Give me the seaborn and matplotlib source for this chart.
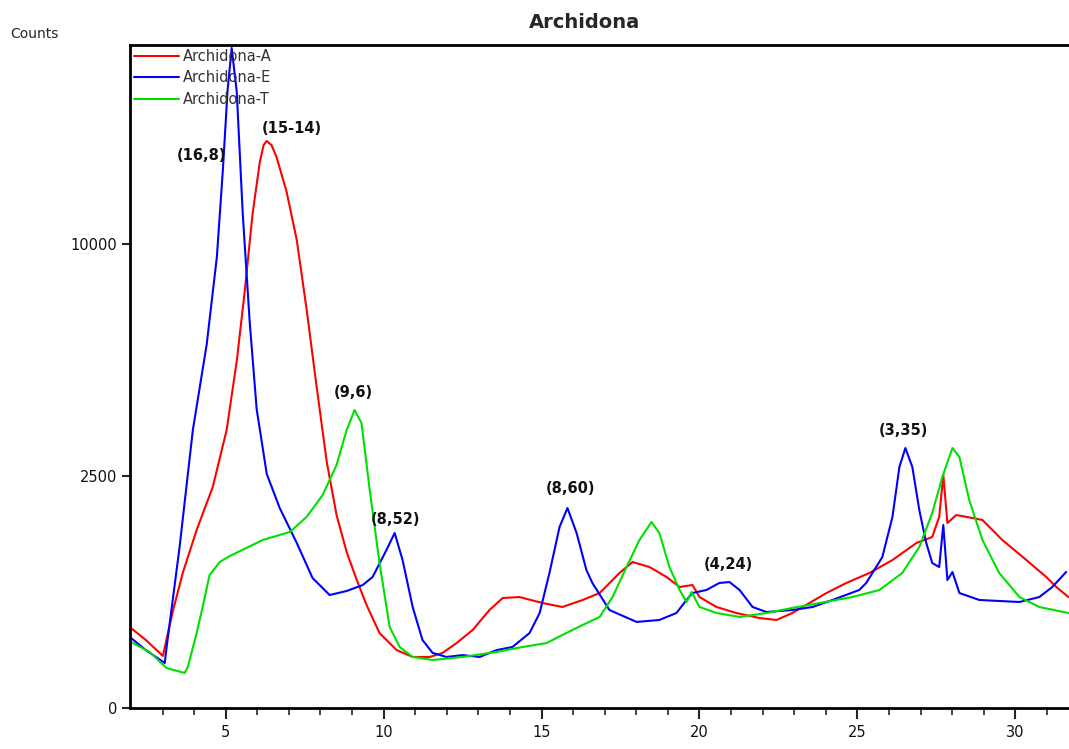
import numpy as np
import pandas as pd
import matplotlib
matplotlib.use("Agg")
import matplotlib.pyplot as plt
import seaborn as sns

# Diffractogram readings: 2-theta (degrees) and intensity (counts)
two_theta_a = [2.0, 2.47, 3.01, 3.32, 3.64, 4.08, 4.59, 5.03, 5.35, 5.60, 5.85, 6.08, 6.20, 6.30,
               6.45, 6.61, 6.93, 7.25, 7.56, 7.88, 8.20, 8.51, 8.83, 9.15, 9.46, 9.87, 10.41,
               10.92, 11.46, 11.87, 12.31, 12.82, 13.35, 13.77, 14.30, 15.03, 15.66, 16.30,
               16.84, 17.47, 17.88, 18.42, 18.96, 19.37, 19.78, 20.0, 20.54, 21.17, 21.90,
               22.44, 22.94, 23.48, 24.02, 24.65, 25.38, 26.11, 26.87, 27.37, 27.59, 27.72,
               27.85, 28.13, 28.64, 28.96, 29.59, 30.35, 30.98, 31.30, 31.68]
counts_a = [297, 215, 126, 428, 847, 1472, 2269, 3590, 5593, 8039, 11336, 13848, 14723, 14933,
            14723, 14102, 12368, 10174, 7395, 4786, 2811, 1730, 1130, 761, 493, 261, 156,
            121, 121, 141, 196, 283, 446, 562, 572, 512, 474, 542,
            614, 847, 990, 923, 797, 680, 703, 572, 474, 419, 376,
            360, 419, 512, 614, 726, 847, 1017, 1265, 1358, 1695, 2522,
            1590, 1730, 1677, 1642, 1311, 1017, 797, 680, 572]

two_theta_e = [2.0, 2.47, 3.07, 3.13, 3.54, 3.96, 4.40, 4.72, 4.91, 5.06, 5.19, 5.35, 5.54,
               5.76, 5.98, 6.30, 6.71, 7.25, 7.75, 8.29, 8.83, 9.34, 9.65, 10.09, 10.35,
               10.60, 10.92, 11.23, 11.55, 11.99, 12.50, 13.04, 13.58, 14.08, 14.62, 14.94,
               15.25, 15.57, 15.82, 16.11, 16.42, 16.61, 17.15, 18.01, 18.73, 19.27, 19.59,
               19.78, 20.22, 20.63, 20.95, 21.27, 21.68, 22.12, 22.94, 23.58, 24.21, 25.06,
               25.28, 25.79, 26.11, 26.33, 26.52, 26.74, 26.96, 27.18, 27.37, 27.59, 27.72,
               27.85, 28.01, 28.23, 28.86, 30.13, 30.76, 31.17, 31.61]
counts_e = [228, 156, 94, 173, 1204, 3590, 6154, 9448, 13445, 17740, 20234, 17626, 11336,
            6921, 4153, 2543, 1858, 1265, 785, 593, 636, 703, 797, 1160, 1423,
            1017, 474, 215, 141, 121, 130, 121, 156, 173, 261, 419,
            847, 1522, 1858, 1423, 885, 726, 446, 344, 360, 419, 542,
            614, 647, 726, 737, 647, 474, 428, 446, 474, 542, 647,
            726, 1059, 1695, 2698, 3140, 2698, 1821, 1265, 977, 923, 1556,
            761, 859, 614, 542, 522, 572, 680, 859]

two_theta_t = [2.0, 2.59, 3.13, 3.70, 3.80, 4.08, 4.27, 4.49, 4.81, 5.13, 6.17, 7.03, 7.56,
               8.07, 8.51, 8.83, 9.08, 9.30, 9.56, 9.87, 10.19, 10.51, 10.92, 11.55, 12.50,
               13.58, 14.40, 15.16, 15.66, 16.30, 16.84, 17.25, 17.69, 18.10, 18.48, 18.73,
               19.05, 19.37, 19.59, 19.75, 20.0, 20.54, 21.27, 22.12, 22.94, 23.80, 24.84,
               25.70, 26.42, 26.96, 27.37, 27.69, 28.01, 28.23, 28.54, 28.96, 29.49, 30.13,
               30.76, 31.68]
counts_t = [202, 146, 74, 57, 78, 261, 474, 822, 990, 1073, 1311, 1439, 1695,
            2107, 2743, 3590, 4125, 3773, 2207, 977, 305, 173, 121, 107, 121,
            146, 173, 196, 248, 320, 385, 572, 923, 1311, 1607, 1423,
            923, 647, 522, 625, 474, 419, 385, 419, 465, 512, 572,
            647, 847, 1204, 1766, 2479, 3140, 2926, 2010, 1311, 847, 572,
            474, 419]

series_names = ["Archidona-A", "Archidona-E", "Archidona-T"]
series_colors = ["#ff0000", "#0000ff", "#00e000"]

# Peak labels: text, 2-theta, counts
peak_labels = ["(16,8)", "(15-14)", "(9,6)", "(8,52)", "(8,60)", "(4,24)", "(3,35)"]
peak_x = [4.24, 7.09, 9.05, 10.38, 15.92, 20.92, 26.46]
peak_y = [14205, 15626, 4638, 1659, 2248, 950, 3590]

y_ticks = [0, 2500, 10000]
x_major = [5, 10, 15, 20, 25, 30]

frames = []
for name, xs, ys in zip(series_names,
                        [two_theta_a, two_theta_e, two_theta_t],
                        [counts_a, counts_e, counts_t]):
    frames.append(pd.DataFrame({"two_theta": xs, "counts": ys, "sample": name}))
df = pd.concat(frames, ignore_index=True)

sns.set_style("white")
plt.rcParams["font.family"] = ["DejaVu Sans"]

fig = plt.figure(figsize=(10.69, 7.49), dpi=100)
ax = fig.add_axes([130 / 1069, 1 - 708 / 749, 1 - 130 / 1069, (708 - 45) / 749])

palette = dict(zip(series_names, series_colors))
sns.lineplot(data=df, x="two_theta", y="counts", hue="sample", palette=palette,
             estimator=None, sort=False, linewidth=1.5, ax=ax, legend=False)

# square-root intensity axis
ax.set_yscale("function", functions=(lambda v: np.sqrt(np.clip(v, 0, None)),
                                     lambda v: np.square(v)))
ax.set_ylim(0, 20420)
ax.set_xlim(1.97, 31.7)

ax.set_yticks(y_ticks)
ax.set_yticklabels([str(t) for t in y_ticks], fontsize=10.5, color="#111111")
ax.set_xticks(x_major)
ax.set_xticklabels([str(t) for t in x_major], fontsize=10.5, color="#111111")
ax.set_xticks(np.arange(3, 32, 1), minor=True)
ax.tick_params(axis="x", which="major", direction="out", length=8, width=1.5,
               bottom=True, pad=4)
ax.tick_params(axis="x", which="minor", direction="out", length=5, width=1.2, bottom=True)
ax.tick_params(axis="y", which="major", direction="out", length=6, width=1.5,
               left=True, pad=3)
ax.yaxis.set_minor_locator(matplotlib.ticker.NullLocator())

for side in ["left", "bottom", "top"]:
    ax.spines[side].set_visible(True)
    ax.spines[side].set_color("black")
    ax.spines[side].set_linewidth(2)
ax.spines["right"].set_visible(False)

ax.set_xlabel("")
ax.set_ylabel("")

for txt, px, py in zip(peak_labels, peak_x, peak_y):
    ax.text(px, py, txt, ha="center", va="center", fontsize=10.5,
            fontweight="bold", color="#111111")

handles = [matplotlib.lines.Line2D([], [], color=c, linewidth=1.5) for c in series_colors]
leg = ax.legend(handles, series_names, loc="upper left", frameon=False,
                fontsize=10.5, handlelength=3.1, handletextpad=0.3,
                labelspacing=0.45, borderaxespad=0.05, borderpad=0.2)
for t in leg.get_texts():
    t.set_color("#333333")

fig.text(585 / 1069, 1 - 22 / 749, "Archidona", ha="center", va="center",
         fontsize=14, fontweight="bold")
fig.text(10 / 1069, 1 - 34 / 749, "Counts", ha="left", va="center", fontsize=10)

fig.savefig("out.png", dpi=100, facecolor="white")
